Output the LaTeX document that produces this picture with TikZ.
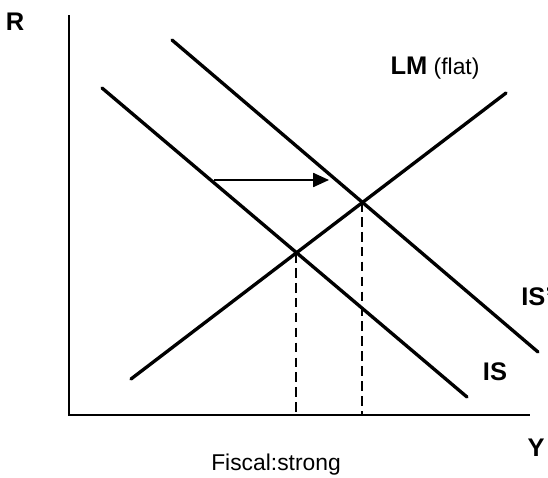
\documentclass[tikz,border=0pt]{standalone}
\usepackage{fontspec}
\setmainfont{Liberation Sans}
\usetikzlibrary{arrows.meta,positioning,calc}

\tikzset{
    curve/.style={line width=1.9pt, line cap=round},
    axis/.style={line width=0.9pt},
    guide/.style={line width=0.9pt, dash pattern=on 5.5pt off 3pt},
    shiftarrow/.style={line width=0.9pt, -{Triangle[length=9pt,width=8pt]}},
    lab/.style={font=\fontsize{14.5}{17}\selectfont\bfseries}
}

\begin{document}
\begin{tikzpicture}[x=0.02cm, y=-0.02cm, every node/.style={font=\fontsize{13}{15}\selectfont, inner sep=0pt}]
    \useasboundingbox (0,0) rectangle (548,477);

    % Axes
    \coordinate (origin) at (69,415);
    \coordinate (rtop) at (69,15);
    \coordinate (yend) at (530,415);
    \draw[axis] (rtop) -- (origin) -- (yend);
    \node[lab] (rlab) at (15,22) {R};
    \node[lab] (ylab) at (536,448) {Y};

    % LM
    \coordinate (lma) at (131,379);
    \coordinate (lmb) at (506,93);
    \draw[curve] (lma) -- (lmb);
    \node (lmlab) at (435,68) {{\fontsize{14.5}{17}\selectfont\bfseries LM} (flat)};

    % IS and IS'
    \coordinate (isa) at (102,88);
    \coordinate (isb) at (467,397);
    \draw[curve] (isa) -- (isb);
    \node[lab] (islab) at (495,372) {IS};
    \coordinate (ispa) at (172,40);
    \coordinate (ispb) at (538,352);
    \draw[curve] (ispa) -- (ispb);
    \node[lab, anchor=west] (isplab) at (521,297) {IS'};

    % Equilibria
    \coordinate (eq1) at (296,253);
    \coordinate (eq2) at (362,202);
    \draw[guide] (eq1) -- (eq1 |- origin);
    \draw[guide] (eq2) -- (eq2 |- origin);

    % Shift
    \coordinate (sa) at (214,180);
    \coordinate (sb) at (329,180);
    \draw[shiftarrow] (sa) -- (sb);

    \node (cap) at (276,465) {Fiscal:strong};
\end{tikzpicture}
\end{document}
